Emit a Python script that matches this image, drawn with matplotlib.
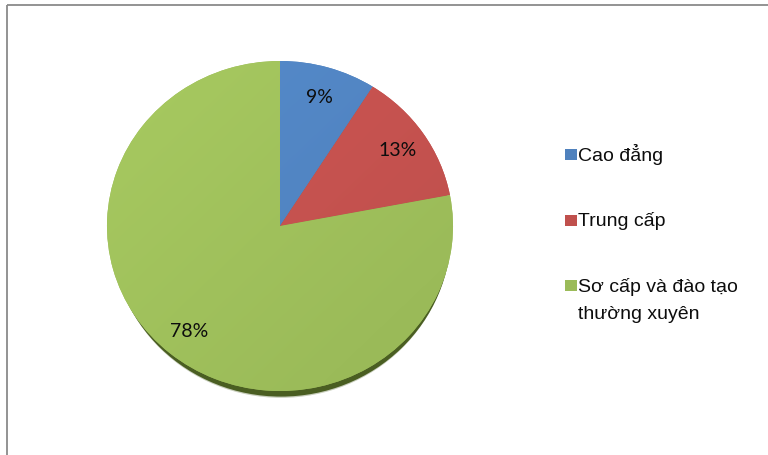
import numpy as np
import matplotlib
matplotlib.use("Agg")
import matplotlib.pyplot as plt
from matplotlib.patches import Rectangle, Ellipse
from matplotlib.colors import to_rgb

# Data
categories = ["Cao đẳng", "Trung cấp", "Sơ cấp và đào tạo\nthường xuyên"]
shares = [9, 13, 78]
colors = ["#4F81BD", "#C0504D", "#9BBB59"]

W, H = 768, 456
fig = plt.figure(figsize=(W / 100, H / 100), dpi=100)
fig.patch.set_facecolor("white")

# Overlay axes in pixel coordinates for the frame and legend
bg = fig.add_axes([0, 0, 1, 1])
bg.set_xlim(0, W)
bg.set_ylim(H, 0)
bg.axis("off")
bg.add_patch(Rectangle((7, 6), W + 10, H + 10, fill=False,
                       edgecolor="#8a8a8a", lw=1.3))

# Pie axes: slightly flattened ellipse
cx, cy, rx, ry = 280, 227, 173, 165
ax = fig.add_axes([(cx - rx) / W, 1 - (cy + ry) / H, 2 * rx / W, 2 * ry / H])

# Dark rim below the pie (3D edge)
rim1 = Ellipse((0.006, -0.034), 1.968, 2.0, facecolor="#4A5E22",
               edgecolor="none", zorder=0)
rim2 = Ellipse((0.006, -0.044), 1.958, 1.995, facecolor="#4A5E22",
               edgecolor="none", alpha=0.3, zorder=0)
for rim in (rim1, rim2):
    rim.set_clip_on(False)
    ax.add_patch(rim)

wedges, texts, autotexts = ax.pie(
    shares, colors=colors, startangle=90, counterclock=False,
    autopct="%1.0f%%", pctdistance=0.82, radius=1.0,
    wedgeprops=dict(edgecolor="none", linewidth=0),
    textprops=dict(fontsize=14, family="Lato", color="#0d0d0d"),
)
ax.set_aspect("auto")
ax.set_xlim(-1, 1)
ax.set_ylim(-1, 1)
ax.axis("off")

# Soft shading: lighter toward top-left, darker toward bottom-right
yy, xx = np.mgrid[1:-1:300j, -1:1:300j]
shade = 1.03 - 0.05 * (xx - yy) / 2.0
for w, c in zip(wedges, colors):
    base = np.array(to_rgb(c))
    img = np.clip(base[None, None, :] * shade[:, :, None], 0, 1)
    im = ax.imshow(img, extent=(-1, 1, -1, 1), origin="upper",
                   aspect="auto", zorder=w.get_zorder() + 0.1,
                   interpolation="bilinear")
    im.set_clip_path(w)
for t in autotexts:
    t.set_zorder(5)

# Legend: square key aligned with the first text line
base_y = 161
step = 65.5
line_gap = 27
for i, (lab, c) in enumerate(zip(categories, colors)):
    y = base_y + step * i
    bg.add_patch(Rectangle((565, y - 11), 12, 11, facecolor=c,
                           edgecolor="none"))
    for j, line in enumerate(lab.split("\n")):
        bg.text(578, y + line_gap * j, line, fontsize=14,
                family="Liberation Sans", color="#0d0d0d",
                va="baseline", ha="left")

fig.savefig("out.png", dpi=100)
